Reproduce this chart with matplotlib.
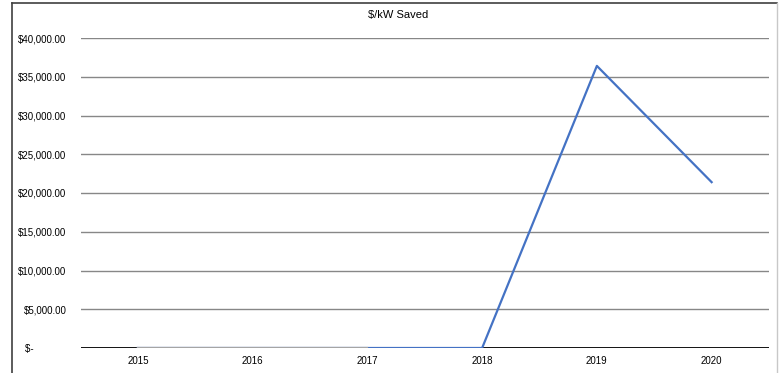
import matplotlib
matplotlib.use("Agg")
import matplotlib.pyplot as plt
import numpy as np
from matplotlib.lines import Line2D

# ── Dati ──────────────────────────────────────────────────────────────────────
years   = ["2015", "2016", "2017", "2018", "2019", "2020"]
saved   = [0, 0, 0, 0, 36400, 21400]            # $/kW saved (serie blu)
overlay = [0, 0, 0, np.nan, np.nan, np.nan]      # serie grigia sovrapposta
y_ticks = [0, 5000, 10000, 15000, 20000, 25000, 30000, 35000, 40000]

W, H = 779, 373
plt.rcParams["font.family"] = ["Liberation Sans", "DejaVu Sans"]

fig = plt.figure(figsize=(W / 100, H / 100), dpi=100)

# cornice del grafico (stile Excel)
fig.add_artist(Line2D([12 / W, 777 / W], [1 - 3 / H, 1 - 3 / H], color="#404040", lw=1.2))
fig.add_artist(Line2D([12 / W, 12 / W], [0, 1 - 3 / H], color="#404040", lw=1.2))
fig.add_artist(Line2D([777 / W, 777 / W], [0, 1 - 3 / H], color="#C8C8C8", lw=1.0))

ax = fig.add_axes([80.5 / W, 25 / H, (769 - 80.5) / W, (348 - 38) / H])
x = np.arange(len(years))

for v in y_ticks[1:]:
    ax.axhline(v, color="#878787", lw=1.0, zorder=1)
ax.axhline(0, color="black", lw=1.3, zorder=2)

ax.plot(x, saved, color="#4472C4", lw=1.6, zorder=3)
ax.plot(x, overlay, color="#A5A5A5", lw=1.6, zorder=4)

ax.set_xlim(-0.5, len(years) - 0.5)
ax.set_ylim(0, 40000)
ax.set_xticks(x)
ax.set_xticklabels(years, fontsize=7)
ax.set_yticks(y_ticks)
ax.set_yticklabels([f"${v:,.2f}" if v else "$-            " for v in y_ticks], fontsize=7)
ax.tick_params(length=0, pad=10)
ax.tick_params(axis="x", pad=6)
for s in ax.spines.values():
    s.set_visible(False)

fig.text(398 / W, 1 - 15 / H, "$/kW Saved", ha="center", va="center", fontsize=8)

plt.savefig("out.png", dpi=100)
